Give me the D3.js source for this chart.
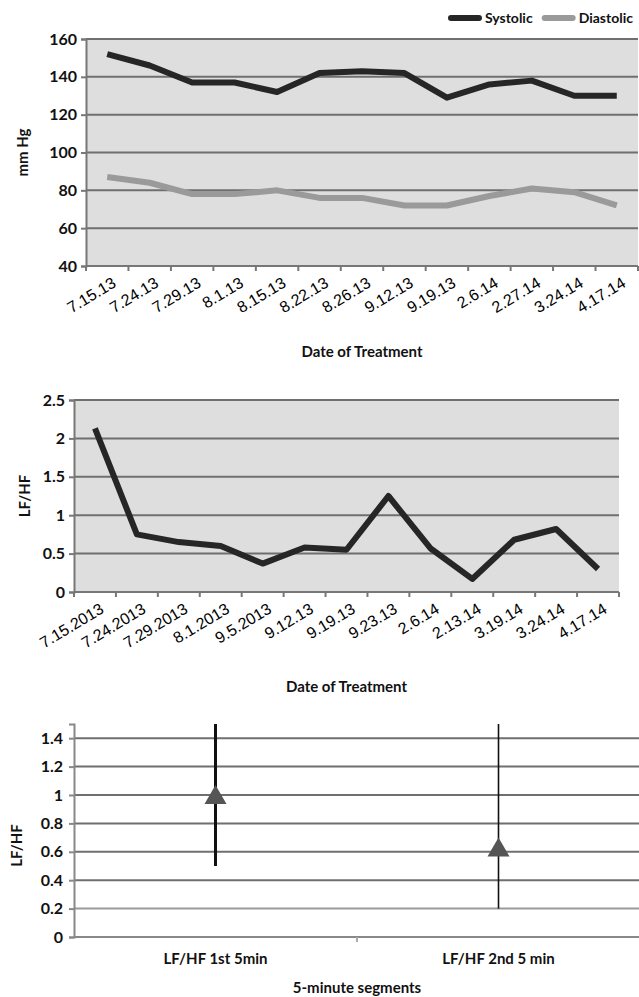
<!DOCTYPE html>
<html>
<head>
<meta charset="utf-8">
<script src="https://cdn.jsdelivr.net/npm/d3@7"></script>
<style>
body{margin:0;background:#fff;}
text{fill:#111;}
.tk{font-family:Lato,"Open Sans",sans-serif;font-weight:bold;font-size:16px;}
.dt{font-family:"Liberation Sans",Arial,sans-serif;font-size:16px;fill:#000;}
.ttl{font-family:Lato,"Open Sans",sans-serif;font-weight:bold;font-size:15px;}
.lg{font-family:Lato,"Open Sans",sans-serif;font-weight:bold;font-size:14px;}
</style>
</head>
<body>
<svg id="chart" width="639" height="997"></svg>
<script>
// blood pressure
var bpDates = ["7.15.13","7.24.13","7.29.13","8.1.13","8.15.13","8.22.13","8.26.13","9.12.13","9.19.13","2.6.14","2.27.14","3.24.14","4.17.14"];
var systolic = [152,146,137,137,132,142,143,142,129,136,138,130,130];
var diastolic = [87,84,78,78,80,76,76,72,72,77,81,79,72];
var bpTicks = [40,60,80,100,120,140,160];

// LF/HF per session
var hrvDates = ["7.15.2013","7.24.2013","7.29.2013","8.1.2013","9.5.2013","9.12.13","9.19.13","9.23.13","2.6.14","2.13.14","3.19.14","3.24.14","4.17.14"];
var lfhf = [2.13,0.75,0.65,0.6,0.37,0.58,0.55,1.25,0.57,0.17,0.68,0.82,0.3];
var hrvTicks = [0,0.5,1,1.5,2,2.5];

// 5 minute segments
var segNames = ["LF/HF 1st 5min","LF/HF 2nd 5  min"];
var segMean = [1.0,0.63];
var segLow = [0.5,0.2];
var segHigh = [1.5,1.5];
var segTicks = [0,0.2,0.4,0.6,0.8,1,1.2,1.4];

var svg = d3.select("#chart");

function linePanel(cfg){
	var g = svg.append("g");
	var x = d3.scaleBand().domain(cfg.cats).range([cfg.x0,cfg.x1]);
	var y = d3.scaleLinear().domain(cfg.dom).range([cfg.y1,cfg.y0]);
	g.append("rect").attr("x",cfg.x0).attr("y",cfg.y0)
		.attr("width",cfg.x1-cfg.x0).attr("height",cfg.y1-cfg.y0).attr("fill","#dedede");
	g.selectAll(".grid").data(cfg.ticks).enter().append("line")
		.attr("x1",cfg.x0).attr("x2",cfg.x1)
		.attr("y1",function(d){return y(d);}).attr("y2",function(d){return y(d);})
		.attr("stroke","#6f6f6f").attr("stroke-width",2);
	// y axis
	var ya = g.append("g").attr("transform","translate("+cfg.x0+",0)")
		.call(d3.axisLeft(y).tickValues(cfg.ticks).tickSize(5).tickPadding(4).tickFormat(d3.format("")));
	ya.select(".domain").attr("stroke","#777").attr("stroke-width",2);
	ya.selectAll(".tick line").attr("stroke","#777").attr("stroke-width",2);
	ya.selectAll("text").attr("class","tk").attr("fill","#111");
	// x axis with ticks at band edges
	var xa = g.append("g").attr("transform","translate(0,"+cfg.y1+")");
	xa.append("line").attr("x1",cfg.x0).attr("x2",cfg.x1).attr("stroke","#777").attr("stroke-width",2);
	var edges = cfg.cats.map(function(c){return x(c);}).concat([cfg.x1]);
	xa.selectAll(".xt").data(edges).enter().append("line")
		.attr("x1",function(d){return d;}).attr("x2",function(d){return d;})
		.attr("y1",0).attr("y2",5).attr("stroke","#777").attr("stroke-width",2);
	xa.selectAll(".lbl").data(cfg.cats).enter().append("text")
		.attr("class","dt").attr("text-anchor","end")
		.attr("transform",function(d){return "translate("+(x(d)+x.bandwidth()/2+10)+",20) rotate(-31)";})
		.text(function(d){return d;});
	cfg.series.forEach(function(s){
		var ln = d3.line().x(function(d,i){return x(cfg.cats[i])+x.bandwidth()/2;}).y(function(d){return y(d);});
		g.append("path").datum(s.values).attr("d",ln).attr("fill","none")
			.attr("stroke",s.color).attr("stroke-width",6).attr("stroke-linejoin","round");
	});
	g.append("text").attr("class","ttl").attr("text-anchor","middle")
		.attr("x",(cfg.x0+cfg.x1)/2).attr("y",cfg.xTitleY).text("Date of Treatment");
	g.append("text").attr("class","ttl").attr("text-anchor","middle")
		.attr("transform","translate("+cfg.yTitleX+","+((cfg.y0+cfg.y1)/2)+") rotate(-90)").text(cfg.yTitle);
}

linePanel({cats:bpDates,dom:[40,160],ticks:bpTicks,x0:86,x1:638,y0:39,y1:266,
	series:[{values:systolic,color:"#262626"},{values:diastolic,color:"#9a9a9a"}],
	xTitleY:357,yTitle:"mm Hg",yTitleX:28});

linePanel({cats:hrvDates,dom:[0,2.5],ticks:hrvTicks,x0:74,x1:619,y0:400,y1:592,
	series:[{values:lfhf,color:"#262626"}],
	xTitleY:692,yTitle:"LF/HF",yTitleX:30});

// legend, laid out right to left from the edge
var leg = svg.append("g");
var lx = 633;
[{n:"Diastolic",c:"#9a9a9a"},{n:"Systolic",c:"#262626"}].forEach(function(d){
	var t = leg.append("text").attr("class","lg").attr("text-anchor","end").attr("x",lx).attr("y",23).text(d.n);
	var w = t.node().getComputedTextLength();
	var sx = lx - w - 6;
	leg.append("line").attr("x1",sx-28).attr("x2",sx).attr("y1",18).attr("y2",18)
		.attr("stroke",d.c).attr("stroke-width",6).attr("stroke-linecap","round");
	lx = sx - 40;
});

// error bar panel
(function(){
	var g = svg.append("g");
	var x0 = 74, x1 = 640, y0 = 724, y1 = 937;
	var x = d3.scaleBand().domain(segNames).range([x0,x1]);
	var y = d3.scaleLinear().domain([0,1.5]).range([y1,y0]);
	g.selectAll(".grid").data(segTicks.slice(1)).enter().append("line")
		.attr("x1",x0).attr("x2",x1)
		.attr("y1",function(d){return y(d);}).attr("y2",function(d){return y(d);})
		.attr("stroke",function(d){return d==0.2?"#9a9a9a":"#6f6f6f";}).attr("stroke-width",2);
	var ya = g.append("g").attr("transform","translate("+x0+",0)")
		.call(d3.axisLeft(y).tickValues(segTicks).tickSize(5).tickPadding(6).tickFormat(d3.format("")));
	ya.select(".domain").attr("stroke","#888").attr("stroke-width",2);
	ya.selectAll(".tick line").attr("stroke","#888").attr("stroke-width",2);
	ya.selectAll("text").attr("class","tk").attr("fill","#111");
	g.append("line").attr("x1",x0).attr("x2",x1).attr("y1",y1).attr("y2",y1).attr("stroke","#888").attr("stroke-width",2);
	g.append("line").attr("x1",x(segNames[1])).attr("x2",x(segNames[1])).attr("y1",y1).attr("y2",y1+5).attr("stroke","#aaa").attr("stroke-width",2);
	var cx = function(d){return x(d)+x.bandwidth()/2;};
	g.selectAll(".eb").data(segNames).enter().append("line")
		.attr("x1",cx).attr("x2",cx)
		.attr("y1",function(d,i){return y(segHigh[i]);}).attr("y2",function(d,i){return y(segLow[i]);})
		.attr("stroke","#111").attr("stroke-width",function(d,i){return i==0?3:1.6;});
	g.selectAll(".mk").data(segNames).enter().append("path")
		.attr("d",function(d,i){var px=cx(d),py=y(segMean[i]);return "M"+px+","+(py-10)+"L"+(px+11)+","+(py+9)+"L"+(px-11)+","+(py+9)+"Z";})
		.attr("fill","#555");
	g.selectAll(".sl").data(segNames).enter().append("text")
		.attr("class","ttl").attr("text-anchor","middle")
		.attr("x",cx).attr("y",964).text(function(d){return d;});
	g.append("text").attr("class","ttl").attr("text-anchor","middle")
		.attr("x",(x0+x1)/2).attr("y",993).text("5-minute segments");
	g.append("text").attr("class","ttl").attr("text-anchor","middle")
		.attr("transform","translate(22,"+((y0+y1)/2+15)+") rotate(-90)").text("LF/HF");
})();
</script>
</body>
</html>
